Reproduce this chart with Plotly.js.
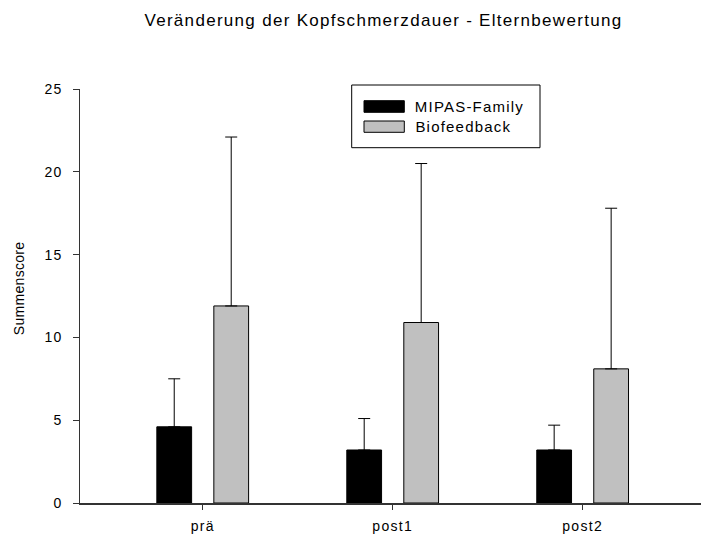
<!DOCTYPE html>
<html>
<head>
<meta charset="utf-8">
<script src="https://cdn.plot.ly/plotly-3.0.1.min.js"></script>
<style>
html,body{margin:0;padding:0;background:#fff;}
#chart{width:701px;height:535px;}
.gtitle{letter-spacing:1.3px;}
.xtick text,.ytick text{letter-spacing:1.3px;}
.annotation[data-index="0"] text,.annotation[data-index="1"] text{letter-spacing:1.2px;}
.annotation[data-index="2"] text{letter-spacing:0.3px;}
</style>
</head>
<body>
<div id="chart"></div>
<script>
// ---- data ----
const categories = ["prä", "post1", "post2"];
const seriesNames = ["MIPAS-Family", "Biofeedback"];
const mipasMean = [4.6, 3.2, 3.2];
const mipasErr = [2.9, 1.9, 1.5];
const bioMean = [11.9, 10.9, 8.1];
const bioErr = [10.2, 9.6, 9.7];
const yTicks = [0, 5, 10, 15, 20, 25];
const zeros = [0, 0, 0];

const FONT = "Liberation Sans, Arial, sans-serif";

const traces = [
  {
    type: "bar", name: seriesNames[0], x: categories, y: mipasMean,
    marker: {color: "#000000", line: {color: "#000000", width: 1}},
    error_y: {type: "data", symmetric: false, array: mipasErr, arrayminus: zeros,
              color: "#000000", thickness: 1, width: 6},
    showlegend: false, hoverinfo: "y"
  },
  {
    type: "bar", name: seriesNames[1], x: categories, y: bioMean,
    marker: {color: "#c0c0c0", line: {color: "#000000", width: 1}},
    error_y: {type: "data", symmetric: false, array: bioErr, arrayminus: zeros,
              color: "#000000", thickness: 1, width: 6},
    showlegend: false, hoverinfo: "y"
  }
];

const px2xp = px => (px - 80) / 621;
const px2yp = py => (503 - py) / 414;

const layout = {
  width: 701, height: 535,
  margin: {l: 80, r: 0, t: 89, b: 32, pad: 0},
  paper_bgcolor: "#ffffff", plot_bgcolor: "#ffffff",
  font: {family: FONT, size: 13, color: "#000000"},
  title: {text: "Veränderung der Kopfschmerzdauer - Elternbewertung",
          font: {family: FONT, size: 17, color: "#000000"},
          x: 0.547, xanchor: "center", y: 0.962, yanchor: "middle"},
  barmode: "group", bargap: 0.4, bargroupgap: 0.39,
  showlegend: false,
  xaxis: {
    type: "category", range: [-0.646, 2.623], autorange: false,
    showline: true, linecolor: "#333333", linewidth: 1.5,
    ticks: "outside", ticklen: 5, tickcolor: "#333333", tickwidth: 1,
    showgrid: false, zeroline: false,
    tickfont: {family: FONT, size: 14, color: "#000000"},
    ticklabelstandoff: 5, fixedrange: true
  },
  yaxis: {
    range: [0, 25], autorange: false, tickvals: yTicks, ticktext: yTicks.map(String),
    showline: true, linecolor: "#333333", linewidth: 1.5,
    ticks: "outside", ticklen: 6, tickcolor: "#333333", tickwidth: 1,
    showgrid: false, zeroline: false,
    tickfont: {family: FONT, size: 14, color: "#000000"},
    ticklabelstandoff: 7,
    fixedrange: true
  },
  shapes: [
    {type: "rect", xref: "paper", yref: "paper",
     x0: px2xp(351.7), x1: px2xp(540), y0: px2yp(147.7), y1: px2yp(85),
     line: {color: "#000000", width: 1}, fillcolor: "#ffffff", layer: "above"},
    {type: "rect", xref: "paper", yref: "paper",
     x0: px2xp(364), x1: px2xp(404.3), y0: px2yp(112.3), y1: px2yp(100.7),
     line: {color: "#000000", width: 1}, fillcolor: "#000000", layer: "above"},
    {type: "rect", xref: "paper", yref: "paper",
     x0: px2xp(364), x1: px2xp(404.3), y0: px2yp(132.3), y1: px2yp(121),
     line: {color: "#000000", width: 1}, fillcolor: "#c0c0c0", layer: "above"}
  ],
  annotations: [
    {xref: "paper", yref: "paper", x: px2xp(420), y: px2yp(106.5), xanchor: "left", yanchor: "middle",
     text: seriesNames[0], showarrow: false, font: {family: FONT, size: 15, color: "#000000"}},
    {xref: "paper", yref: "paper", x: px2xp(420), y: px2yp(126.7), xanchor: "left", yanchor: "middle",
     text: seriesNames[1], showarrow: false, font: {family: FONT, size: 15, color: "#000000"}},
    {xref: "paper", yref: "paper", x: px2xp(18.5), y: px2yp(289), xanchor: "center", yanchor: "middle",
     text: "Summenscore", textangle: -90, showarrow: false, font: {family: FONT, size: 14, color: "#000000"}}
  ]
};

Plotly.newPlot("chart", traces, layout, {displayModeBar: false, staticPlot: true});
</script>
</body>
</html>
